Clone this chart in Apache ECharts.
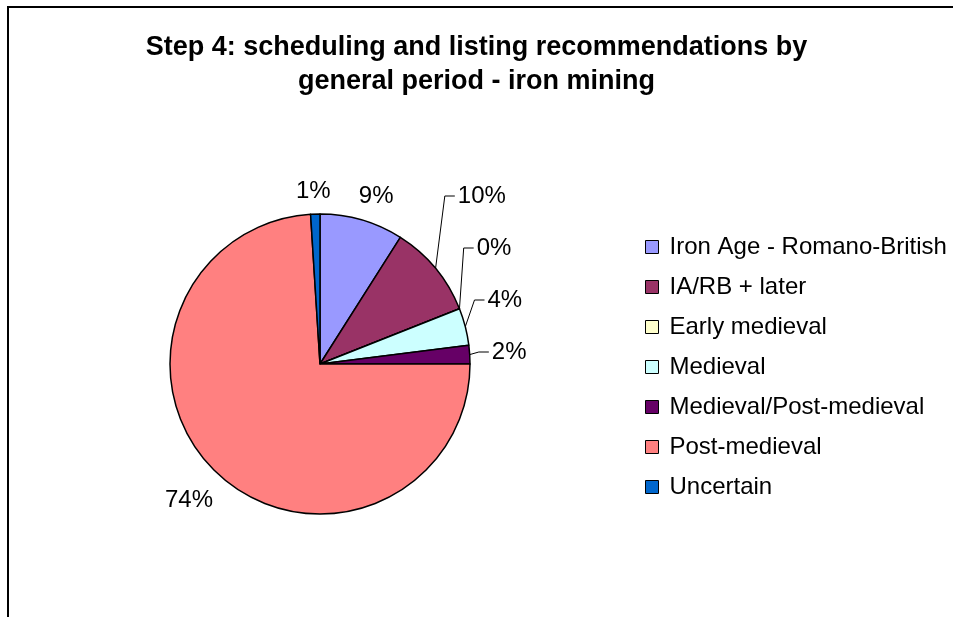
<!DOCTYPE html>
<html>
<head>
<meta charset="utf-8">
<script src="https://cdn.jsdelivr.net/npm/echarts@6/dist/echarts.min.js"></script>
<style>
  html, body { margin: 0; padding: 0; background: #fff; }
  #chart { width: 953px; height: 617px; }
</style>
</head>
<body>
<div id="chart"></div>
<script>
// periods and their share of sites (percent)
const categories = [
  "Iron Age - Romano-British",
  "IA/RB + later",
  "Early medieval",
  "Medieval",
  "Medieval/Post-medieval",
  "Post-medieval",
  "Uncertain"
];
const counts = [9, 10, 0, 4, 2, 74, 1];
const sliceColors = ["#9999FF", "#993366", "#FFFFCC", "#CCFFFF", "#660066", "#FF8080", "#0066CC"];

// labels drawn without a leader line, with their own offsets from the rim
const freeLabels = {
  "Iron Age - Romano-British": { length: 25, length2: -15 },
  "Post-medieval": { length: 37, length2: -26 },
  "Uncertain": { length: 23, length2: -21 }
};

const font = "'Liberation Sans', Arial, sans-serif";
const pctText = p => Math.round(p.percent) + "%";

const chart = echarts.init(document.getElementById("chart"));

const option = {
  backgroundColor: "#fff",
  animation: false,
  title: {
    text: "Step 4: scheduling and listing recommendations by\ngeneral period - iron mining",
    left: "center",
    top: 26,
    textStyle: {
      fontFamily: font,
      fontWeight: "bold",
      fontSize: 27,
      lineHeight: 34,
      color: "#000"
    }
  },
  legend: {
    orient: "vertical",
    left: 640,
    top: 230,
    itemWidth: 13,
    itemHeight: 13,
    itemGap: 16,
    icon: "rect",
    itemStyle: { borderColor: "#000", borderWidth: 1 },
    textStyle: {
      fontFamily: font,
      fontSize: 24,
      lineHeight: 24,
      color: "#000",
      padding: [0, 0, 0, 6]
    },
    data: categories
  },
  graphic: [{
    type: "polyline",
    shape: { points: [[8, 617], [8, 7], [953, 7]] },
    style: { stroke: "#000", lineWidth: 2, fill: null }
  }],
  series: [{
    // slices + stacked leader-line labels on the right
    type: "pie",
    left: 0,
    top: 0,
    width: 953,
    height: 378,
    center: [320, 364],
    radius: 150,
    startAngle: 90,
    clockwise: true,
    avoidLabelOverlap: true,
    minShowLabelAngle: 0,
    itemStyle: { borderColor: "#000", borderWidth: 1.5 },
    label: {
      show: true,
      position: "outside",
      formatter: pctText,
      fontFamily: font,
      fontSize: 24,
      lineHeight: 24,
      padding: [13, 0, 13, 0],
      distanceToLabelLine: 3,
      color: "#000"
    },
    labelLine: {
      show: true,
      length: 12,
      length2: 10,
      lineStyle: { color: "#000", width: 1 }
    },
    emphasis: { disabled: true },
    data: categories.map((name, i) => ({
      name: name,
      value: counts[i],
      itemStyle: { color: sliceColors[i] },
      label: freeLabels[name] ? { show: false } : undefined,
      labelLine: freeLabels[name] ? { show: false } : undefined
    }))
  }, {
    // same slices, invisible, only carrying the labels without leader lines
    type: "pie",
    center: [320, 364],
    radius: 150,
    startAngle: 90,
    clockwise: true,
    avoidLabelOverlap: false,
    silent: true,
    legendHoverLink: false,
    minShowLabelAngle: 0,
    itemStyle: { color: "transparent", borderWidth: 0 },
    label: {
      show: true,
      position: "outside",
      formatter: pctText,
      fontFamily: font,
      fontSize: 24,
      lineHeight: 24,
      color: "#000"
    },
    emphasis: { disabled: true },
    data: categories.map((name, i) => ({
      name: name,
      value: counts[i],
      label: { show: !!freeLabels[name] },
      labelLine: Object.assign({ show: false }, freeLabels[name] || {})
    }))
  }]
};

chart.setOption(option);
</script>
</body>
</html>
